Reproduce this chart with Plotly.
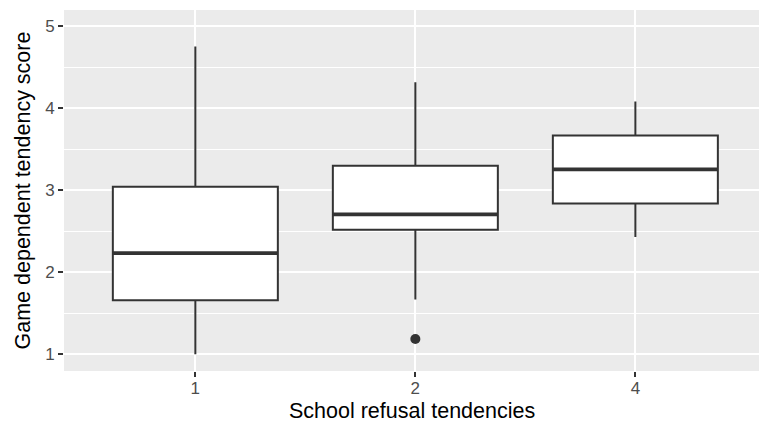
import plotly.graph_objects as go

categories = ["1", "2", "4"]
q1 = [1.66, 2.52, 2.84]
median = [2.235, 2.707, 3.256]
q3 = [3.045, 3.30, 3.67]
lower = [1.0, 1.667, 2.43]
upper = [4.756, 4.32, 4.085]
outlier_cat = ["2"]
outlier_val = [1.186]
x_title = "School refusal tendencies"
y_title = "Game dependent tendency score"

pos = list(range(len(categories)))
box_w = 0.75

fig = go.Figure()
fig.add_trace(go.Box(
    x=pos, q1=q1, median=median, q3=q3, lowerfence=lower, upperfence=upper,
    width=box_w, whiskerwidth=0, fillcolor="white",
    line=dict(color="#333333", width=2), boxpoints=False, showlegend=False,
    hoverinfo="skip",
))
# thick median lines (ggplot fatten)
mx, my = [], []
for p, m in zip(pos, median):
    mx += [p - box_w / 2, p + box_w / 2, None]
    my += [m, m, None]
fig.add_trace(go.Scatter(x=mx, y=my, mode="lines", line=dict(color="#333333", width=3.8),
                         showlegend=False, hoverinfo="skip"))
fig.add_trace(go.Scatter(x=[categories.index(c) for c in outlier_cat], y=outlier_val, mode="markers",
                         marker=dict(color="#333333", size=10), showlegend=False, hoverinfo="skip"))

font = "Liberation Sans, Arial, sans-serif"
fig.update_layout(
    width=759, height=423,
    margin=dict(l=64, r=0, t=10, b=52),
    paper_bgcolor="white", plot_bgcolor="#EBEBEB",
    font=dict(family=font),
    xaxis=dict(
        range=[-0.597, 2.562], tickvals=pos, ticktext=categories,
        showgrid=True, gridcolor="white", gridwidth=1.6, zeroline=False,
        ticks="outside", ticklen=5, tickwidth=1.6, tickcolor="#333333",
        tickfont=dict(size=17, color="#4D4D4D", family=font),
        ticklabelstandoff=-3,
        showline=False,
    ),
    yaxis=dict(
        range=[0.796, 5.20], tickvals=[1, 2, 3, 4, 5],
        showgrid=True, gridcolor="white", gridwidth=1.6, zeroline=False,
        minor=dict(tickvals=[0.5, 1.5, 2.5, 3.5, 4.5], showgrid=True, gridcolor="white", gridwidth=0.8, ticks=""),
        ticks="outside", ticklen=5, tickwidth=1.6, tickcolor="#333333",
        tickfont=dict(size=17, color="#4D4D4D", family=font),
        showline=False,
    ),
    annotations=[
        dict(text=x_title, xref="paper", yref="paper", x=0.5, y=0, xanchor="center", yanchor="middle",
             yshift=-39.5, showarrow=False, font=dict(size=21.5, color="black", family=font)),
        dict(text=y_title, xref="paper", yref="paper", x=0, y=0.5, xanchor="center", yanchor="middle",
             xshift=-42, textangle=-90, showarrow=False, font=dict(size=21.5, color="black", family=font)),
    ],
)
fig.write_html("out.html")
